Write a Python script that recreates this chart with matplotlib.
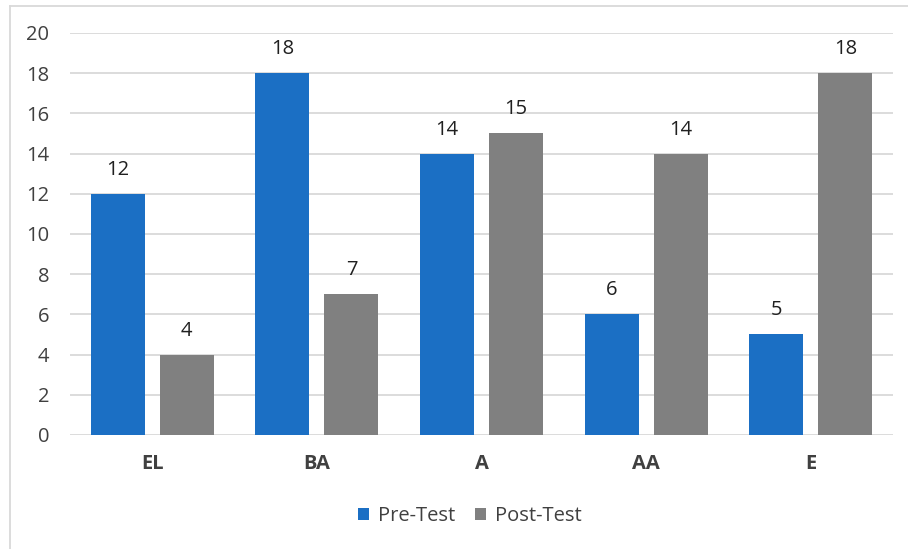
import matplotlib.pyplot as plt
from matplotlib.lines import Line2D
import numpy as np

# data
categories = ['EL', 'BA', 'A', 'AA', 'E']
pre_test = [12, 18, 14, 6, 5]
post_test = [4, 7, 15, 14, 18]

blue = '#1B6FC4'
grey = '#808080'
txt = '#404040'
fs = 14.5

plt.rcParams['font.family'] = ['Open Sans', 'DejaVu Sans']

fig = plt.figure(figsize=(9.08, 5.49), dpi=100)
ax = fig.add_axes([0.0771, 0.2077, 0.9064, 0.7322])

x = np.arange(len(categories))
w = 0.328
off = 0.21
b1 = ax.bar(x - off, pre_test, w, color=blue, label='Pre-Test', zorder=3)
b2 = ax.bar(x + off, post_test, w, color=grey, label='Post-Test', zorder=3)

for bars in (b1, b2):
    for r in bars:
        ax.text(r.get_x() + r.get_width() / 2, r.get_height() + 0.7,
                str(int(r.get_height())), ha='center', va='bottom',
                fontsize=fs, color='#202020')

ax.set_xlim(-0.5, len(categories) - 0.5)
ax.set_ylim(0, 20)
ax.set_yticks(range(0, 21, 2))
ax.grid(axis='y', color='#D9D9D9', linewidth=1.3, zorder=0)
for s in ax.spines.values():
    s.set_visible(False)
ax.tick_params(axis='both', length=0)
ax.tick_params(axis='y', labelsize=fs, labelcolor=txt, pad=15)
ax.set_xticks(x)
ax.set_xticklabels(categories, fontsize=fs, fontweight='bold', color=txt)
ax.tick_params(axis='x', pad=14)

ax.legend(loc='center', bbox_to_anchor=(470 / 908, 1 - 516 / 549), bbox_transform=fig.transFigure,
          ncol=2, frameon=False, fontsize=fs, labelcolor=txt,
          handlelength=0.55, handleheight=0.55, handletextpad=0.45, columnspacing=1.0)

# outer border (top and left)
fig.add_artist(Line2D([10 / 908, 1], [1 - 6 / 549, 1 - 6 / 549], color='#D9D9D9', lw=1.3))
fig.add_artist(Line2D([10 / 908, 10 / 908], [0, 1 - 6 / 549], color='#D9D9D9', lw=1.3))

fig.savefig('out.png', dpi=100)
